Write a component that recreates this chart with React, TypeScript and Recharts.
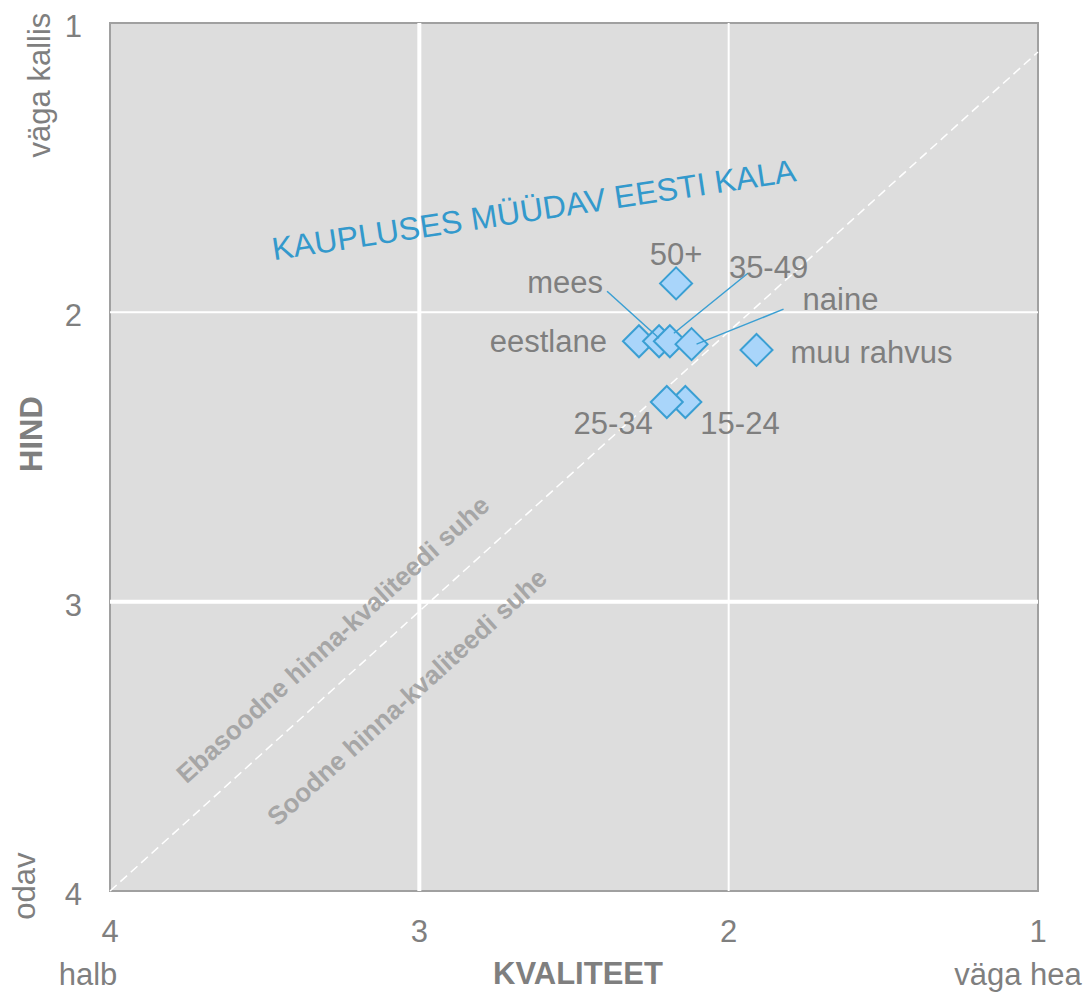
import React from 'react';
import {
  ScatterChart,
  Scatter,
  XAxis,
  YAxis,
  ReferenceArea,
  ReferenceLine,
  ReferenceDot,
  Label,
} from 'recharts';

// ---- data ----
const groups = ['eestlane', 'mees', '35-49', 'naine', '50+', 'muu rahvus', '15-24', '25-34'];
const quality = [2.29, 2.225, 2.19, 2.12, 2.17, 1.91, 2.14, 2.2];
const price = [2.1, 2.1, 2.1, 2.11, 1.9, 2.13, 2.31, 2.31];

const xTicks = [4, 3, 2, 1];
const yTicks = [1, 2, 3, 4];
const xEndLabels: Record<number, string> = { 4: 'halb', 1: 'väga hea' };
const yEndLabels: Record<number, string> = { 1: 'väga kallis', 4: 'odav' };
const xTitle = 'KVALITEET';
const yTitle = 'HIND';
const chartTitle = 'KAUPLUSES MÜÜDAV EESTI KALA';
const badText = 'Ebasoodne hinna-kvaliteedi suhe';
const goodText = 'Soodne hinna-kvaliteedi suhe';

const data = groups.map((name, i) => ({ name, x: quality[i], y: price[i] }));

// ---- styling / layout ----
const FONT = '"Liberation Sans", Arial, sans-serif';
const GRAY = '#7f7f7f';
const BLUE = '#3a9fd3';
const FILL = '#a9d5fa';
const FS = 31;

type LabelCfg = {
  dx: number;
  dy: number;
  anchor: 'start' | 'middle' | 'end';
  leader?: [number, number, number, number];
};
const labelLayout: Record<string, LabelCfg> = {
  eestlane: { dx: -32, dy: 0, anchor: 'end' },
  mees: { dx: -56, dy: -59, anchor: 'end', leader: [-52, -50, 0, -3] },
  '35-49': { dx: 59, dy: -74, anchor: 'start', leader: [78, -68, 4, -8] },
  naine: { dx: 111, dy: -45, anchor: 'start', leader: [92, -35, 5, 0] },
  '50+': { dx: 0, dy: -29, anchor: 'middle' },
  'muu rahvus': { dx: 34, dy: 2, anchor: 'start' },
  '25-34': { dx: -14, dy: 21, anchor: 'end' },
  '15-24': { dx: 15, dy: 21, anchor: 'start' },
};

const Diamond = (props: any) => {
  const { cx, cy } = props;
  const r = 16;
  const pts = `${cx},${cy - r} ${cx + r},${cy} ${cx},${cy + r} ${cx - r},${cy}`;
  return <polygon points={pts} fill={FILL} stroke={BLUE} strokeWidth={2} strokeLinejoin="miter" />;
};

const PointLabel = (props: any) => {
  const { cx, cy, payload } = props;
  const cfg = labelLayout[payload.name];
  if (!cfg) return null;
  return (
    <g>
      {cfg.leader && (
        <line
          x1={cx + cfg.leader[0]}
          y1={cy + cfg.leader[1]}
          x2={cx + cfg.leader[2]}
          y2={cy + cfg.leader[3]}
          stroke={BLUE}
          strokeWidth={1.5}
        />
      )}
      <text
        x={cx + cfg.dx}
        y={cy + cfg.dy}
        dy="0.35em"
        textAnchor={cfg.anchor}
        fill={GRAY}
        fontSize={FS}
        fontFamily={FONT}
      >
        {payload.name}
      </text>
    </g>
  );
};

const XTick = (props: any) => {
  const { x, y, payload } = props;
  const v = payload.value;
  return (
    <g>
      <text x={x} y={y} dy={22} textAnchor="middle" fill={GRAY} fontSize={FS} fontFamily={FONT}>
        {v}
      </text>
      {xEndLabels[v] && (
        <text
          x={v === 4 ? x - 22 : x - 20}
          y={y + 65}
          textAnchor="middle"
          fill={GRAY}
          fontSize={FS}
          fontFamily={FONT}
        >
          {xEndLabels[v]}
        </text>
      )}
    </g>
  );
};

const YTick = (props: any) => {
  const { x, y, payload } = props;
  const v = payload.value;
  let extra = null;
  if (yEndLabels[v]) {
    const ex = v === 1 ? x - 32 : x - 47;
    const ey = v === 1 ? y + 62 : y - 5;
    extra = (
      <text
        x={ex}
        y={ey}
        transform={`rotate(-90 ${ex} ${ey})`}
        textAnchor="middle"
        fill={GRAY}
        fontSize={FS}
        fontFamily={FONT}
      >
        {yEndLabels[v]}
      </text>
    );
  }
  return (
    <g>
      <text x={x} y={y} dy={14} textAnchor="end" fill={GRAY} fontSize={FS} fontFamily={FONT}>
        {v}
      </text>
      {extra}
    </g>
  );
};

const XTitle = (props: any) => {
  const vb = props.viewBox || {};
  const cx = vb.x + vb.width / 2 + 4;
  return (
    <text x={cx} y={984} textAnchor="middle" fill={GRAY} fontSize={FS} fontWeight="bold" fontFamily={FONT}>
      {xTitle}
    </text>
  );
};

const YTitle = (props: any) => {
  const vb = props.viewBox || {};
  const tx = vb.x + 42;
  const ty = vb.y + 411;
  return (
    <text
      x={tx}
      y={ty}
      transform={`rotate(-90 ${tx} ${ty})`}
      textAnchor="middle"
      fill={GRAY}
      fontSize={FS}
      fontWeight="bold"
      fontFamily={FONT}
    >
      {yTitle}
    </text>
  );
};

const makeRotText = (text: string, angle: number, color: string, size: number, bold: boolean) => (p: any) => {
  const { cx, cy } = p;
  return (
    <text
      x={cx}
      y={cy}
      dy="0.35em"
      transform={`rotate(${angle} ${cx} ${cy})`}
      textAnchor="middle"
      fill={color}
      fontSize={size}
      fontWeight={bold ? 'bold' : 'normal'}
      fontFamily={FONT}
    >
      {text}
    </text>
  );
};

export default function App() {
  return (
    <div style={{ position: 'absolute', left: 0, top: 0, width: 1088, height: 992, background: '#fff' }}>
      <ScatterChart width={1088} height={992} margin={{ top: 23, right: 50, bottom: 0, left: 0 }}>
        <XAxis
          type="number"
          dataKey="x"
          domain={[1, 4]}
          reversed
          ticks={xTicks}
          height={101}
          axisLine={false}
          tickLine={false}
          tickSize={0}
          tickMargin={29}
          tick={<XTick />}
          interval={0}
          label={<Label content={<XTitle />} />}
        />
        <YAxis
          type="number"
          dataKey="y"
          domain={[1, 4]}
          reversed
          ticks={yTicks}
          width={110}
          axisLine={false}
          tickLine={false}
          tickSize={0}
          tickMargin={28}
          tick={<YTick />}
          interval={0}
          label={<Label content={<YTitle />} />}
        />
        <ReferenceArea x1={4} x2={1} y1={1} y2={4} fill="#dddddd" fillOpacity={1} stroke="#a0a0a0" strokeWidth={2} />
        <ReferenceLine x={3} stroke="#ffffff" strokeWidth={4} />
        <ReferenceLine x={2} stroke="#ffffff" strokeWidth={2} />
        <ReferenceLine y={2} stroke="#ffffff" strokeWidth={2} />
        <ReferenceLine y={3} stroke="#ffffff" strokeWidth={4} />
        <ReferenceLine
          segment={[
            { x: 4, y: 4 },
            { x: 1, y: 1.1 },
          ]}
          stroke="#ffffff"
          strokeWidth={1.5}
          strokeDasharray="9 5"
        />
        <ReferenceDot x={3.28} y={3.13} r={0} shape={makeRotText(badText, -42.3, '#a6a6a6', 26, true)} />
        <ReferenceDot x={3.04} y={3.33} r={0} shape={makeRotText(goodText, -42.3, '#a6a6a6', 26, true)} />
        <ReferenceDot x={2.63} y={1.645} r={0} shape={makeRotText(chartTitle, -8.6, '#3399cc', 32, false)} />
        <Scatter data={data} shape={<Diamond />} isAnimationActive={false} />
        <Scatter data={data} shape={<PointLabel />} isAnimationActive={false} />
      </ScatterChart>
    </div>
  );
}
